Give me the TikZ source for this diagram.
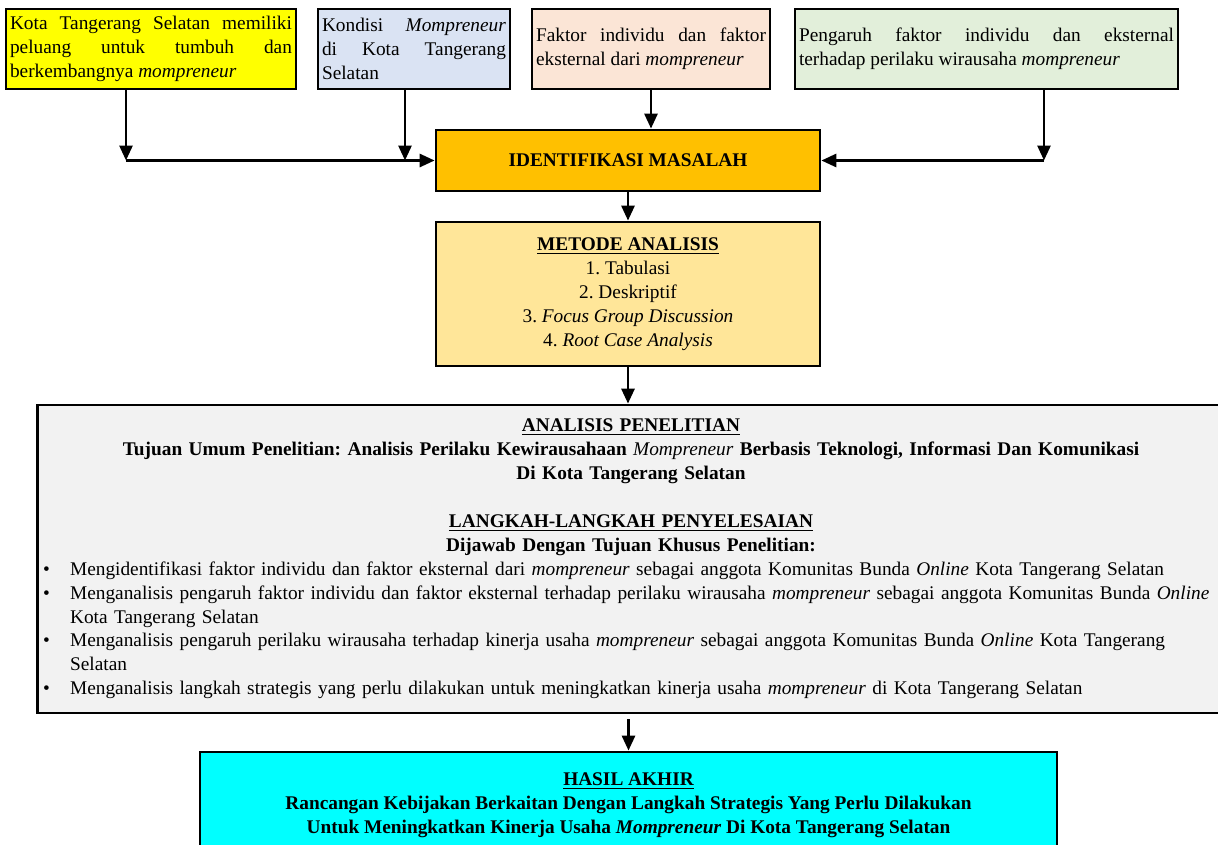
\documentclass[tikz,border=0pt]{standalone}
\usepackage{fontspec}
\setmainfont{Liberation Serif}
\usetikzlibrary{arrows.meta}
\definecolor{kuning}{HTML}{FFFF00}
\definecolor{birumuda}{HTML}{DAE3F3}
\definecolor{persik}{HTML}{FBE5D6}
\definecolor{hijaumuda}{HTML}{E2EFDA}
\definecolor{jingga}{HTML}{FFC000}
\definecolor{emas}{HTML}{FFE699}
\definecolor{abu}{HTML}{F2F2F2}
\definecolor{sian}{HTML}{00FFFF}
\frenchspacing
\tikzset{kotak/.style={rectangle, draw, line width=1.6pt, inner xsep=0.08cm, inner ysep=0.05cm, font=\fontsize{11}{13.6}\selectfont}}
\tikzset{kotakatas/.style={kotak, align=justify, minimum height=1.6cm}}
\tikzset{panah/.style={-{Triangle[length=0.3cm,width=0.26cm]}, line width=1.6pt}}
\newcommand{\butir}[1]{\par\hangindent=0.56cm\hangafter=1\noindent\makebox[0.56cm][l]{\hspace{0.02cm}\textbullet}#1}

\begin{document}
\begin{tikzpicture}[x=0.02cm, y=-0.02cm]
        \useasboundingbox (0,0) rectangle (1218,845);
        \fill[white] (0,0) rectangle (1218,845);

        \node[kotakatas, fill=kuning, text width=5.64cm] (kota) at (151,49) {Kota Tangerang Selatan memiliki\linebreak peluang untuk tumbuh dan\linebreak berkembangnya \textit{mompreneur}};
        \node[kotakatas, fill=birumuda, text width=3.68cm] (kondisi) at (414,49) {Kondisi \textit{Mompreneur}\linebreak di Kota Tangerang\linebreak Selatan};
        \node[kotakatas, fill=persik, text width=4.6cm] (faktor) at (651,49) {Faktor individu dan faktor\linebreak eksternal dari \textit{mompreneur}};
        \node[kotakatas, fill=hijaumuda, text width=7.5cm] (pengaruh) at (986.5,49) {Pengaruh faktor individu dan eksternal\linebreak terhadap perilaku wirausaha \textit{mompreneur}};

        \node[kotak, fill=jingga, minimum width=7.68cm, minimum height=1.22cm, font=\fontsize{11}{13.6}\selectfont\bfseries] (identifikasi) at (628,160.5) {IDENTIFIKASI MASALAH};
        \node[kotak, fill=emas, minimum width=7.68cm, minimum height=2.88cm, align=center] (metode) at (628,294) {\textbf{\underline{METODE ANALISIS}}\\ 1. Tabulasi\\ 2. Deskriptif\\ 3. \textit{Focus Group Discussion}\\ 4. \textit{Root Case Analysis}};

        \node[kotak, fill=abu, text width=23.56cm, inner xsep=0.1cm, minimum height=6.16cm] (analisis) at (631,559) {%
            {\centering\bfseries
            \underline{ANALISIS PENELITIAN}\par
            Tujuan Umum Penelitian: Analisis Perilaku Kewirausahaan \textit{\mdseries Mompreneur} Berbasis Teknologi, Informasi Dan Komunikasi\par
            Di Kota Tangerang Selatan\par
            \vskip\baselineskip
            \underline{LANGKAH-LANGKAH PENYELESAIAN}\par
            Dijawab Dengan Tujuan Khusus Penelitian:\par}
            \raggedright
            \butir{Mengidentifikasi faktor individu dan faktor eksternal dari \textit{mompreneur} sebagai anggota Komunitas Bunda \textit{Online} Kota Tangerang Selatan}
            \butir{Menganalisis pengaruh faktor individu dan faktor eksternal terhadap perilaku wirausaha \textit{mompreneur} sebagai anggota Komunitas Bunda \textit{Online}\newline Kota Tangerang Selatan}
            \butir{Menganalisis pengaruh perilaku wirausaha terhadap kinerja usaha \textit{mompreneur} sebagai anggota Komunitas Bunda \textit{Online} Kota Tangerang\newline Selatan}
            \butir{Menganalisis langkah strategis yang perlu dilakukan untuk meningkatkan kinerja usaha \textit{mompreneur} di Kota Tangerang Selatan}\par};

        \node[kotak, fill=sian, minimum width=17.14cm, minimum height=2.12cm, align=center, font=\fontsize{11}{13.6}\selectfont\bfseries] (hasil) at (628.5,805) {\underline{HASIL AKHIR}\\ Rancangan Kebijakan Berkaitan Dengan Langkah Strategis Yang Perlu Dilakukan\\ Untuk Meningkatkan Kinerja Usaha \textit{Mompreneur} Di Kota Tangerang Selatan};

        \coordinate (ja) at (126,160.5);
        \coordinate (jb) at (405,160.5);
        \coordinate (jd) at (1044,160.5);

        \draw[panah] (kota.south -| ja) -- (ja);
        \draw[panah] (kondisi.south -| jb) -- (jb);
        \draw[panah] (ja) -- (identifikasi.west);
        \draw[panah] (faktor.south) -- (faktor.south |- identifikasi.north);
        \draw[panah] (pengaruh.south -| jd) -- (jd);
        \draw[panah] (jd) -- (identifikasi.east);
        \draw[panah] (identifikasi.south) -- (metode.north);
        \draw[panah] (metode.south) -- (metode.south |- analisis.north);
        \draw[panah, shorten <=0.1cm] (analisis.south -| hasil.north) -- (hasil.north);
\end{tikzpicture}
\end{document}
